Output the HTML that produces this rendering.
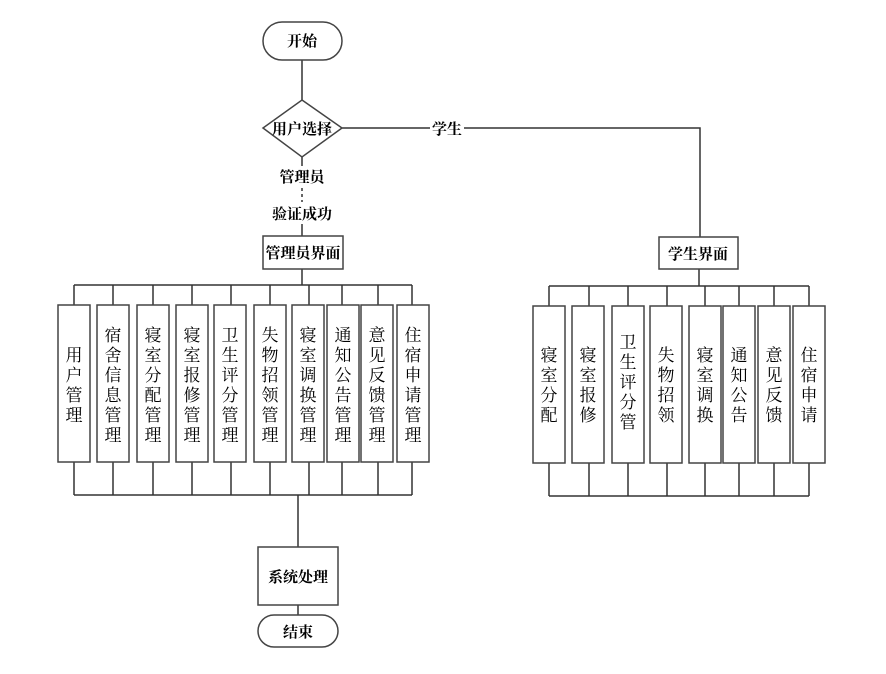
<!DOCTYPE html>
<html><head><meta charset="utf-8"><style>
body{margin:0;background:#fff}
svg text{font-family:"Liberation Serif","Noto Serif CJK SC","Noto Sans CJK SC",serif;fill:#000}
.b{font-weight:bold;font-size:15px}
.v{font-size:17px;font-family:"Liberation Sans","Noto Sans CJK SC",sans-serif}
</style></head><body>
<svg width="886" height="669" viewBox="0 0 886 669" xmlns="http://www.w3.org/2000/svg">
<g stroke="#333" stroke-width="1.5" fill="none">
<line x1="302" y1="60" x2="302" y2="100"/>
<polyline points="342,128 700,128 700,237"/>
<line x1="302" y1="157" x2="302" y2="166"/>
<line x1="302" y1="188" x2="302" y2="202" stroke-dasharray="3,3"/>
<line x1="302" y1="224" x2="302" y2="236"/>
<line x1="302" y1="269" x2="302" y2="285"/>
<line x1="74" y1="285" x2="412" y2="285"/>
<line x1="74" y1="495" x2="412" y2="495"/>
<line x1="298" y1="495" x2="298" y2="547"/>
<line x1="298" y1="605" x2="298" y2="615"/>
<line x1="699" y1="269" x2="699" y2="286"/>
<line x1="549" y1="286" x2="809" y2="286"/>
<line x1="549" y1="496" x2="809" y2="496"/>
</g>
<g stroke="#333" stroke-width="1.5">
<line x1="74" y1="285" x2="74" y2="495"/><line x1="113" y1="285" x2="113" y2="495"/><line x1="153" y1="285" x2="153" y2="495"/><line x1="192" y1="285" x2="192" y2="495"/><line x1="231" y1="285" x2="231" y2="495"/><line x1="270" y1="285" x2="270" y2="495"/><line x1="309" y1="285" x2="309" y2="495"/><line x1="342" y1="285" x2="342" y2="495"/><line x1="378" y1="285" x2="378" y2="495"/><line x1="412" y1="285" x2="412" y2="495"/>
<line x1="549" y1="286" x2="549" y2="496"/><line x1="589" y1="286" x2="589" y2="496"/><line x1="628" y1="286" x2="628" y2="496"/><line x1="667" y1="286" x2="667" y2="496"/><line x1="705" y1="286" x2="705" y2="496"/><line x1="739" y1="286" x2="739" y2="496"/><line x1="774" y1="286" x2="774" y2="496"/><line x1="809" y1="286" x2="809" y2="496"/>
</g>
<g fill="#fff" stroke="#444" stroke-width="1.5">
<rect x="263" y="22" width="79" height="38" rx="19"/>
<polygon points="302,100 342,128 302,157 263,128"/>
<rect x="263" y="236" width="80" height="33"/>
<rect x="659" y="237" width="79" height="32"/>
<rect x="258" y="547" width="80" height="58"/>
<rect x="258" y="615" width="80" height="32" rx="16"/>
<rect x="58" y="305" width="32" height="157"/><rect x="97" y="305" width="32" height="157"/><rect x="137" y="305" width="32" height="157"/><rect x="176" y="305" width="32" height="157"/><rect x="214" y="305" width="32" height="157"/><rect x="254" y="305" width="32" height="157"/><rect x="292" y="305" width="32" height="157"/><rect x="327" y="305" width="32" height="157"/><rect x="361" y="305" width="32" height="157"/><rect x="397" y="305" width="32" height="157"/>
<rect x="533" y="306" width="32" height="157"/><rect x="572" y="306" width="32" height="157"/><rect x="612" y="306" width="32" height="157"/><rect x="650" y="306" width="32" height="157"/><rect x="689" y="306" width="32" height="157"/><rect x="723" y="306" width="32" height="157"/><rect x="758" y="306" width="32" height="157"/><rect x="793" y="306" width="32" height="157"/>
</g>
<rect x="430" y="119" width="34" height="18" fill="#fff"/>
<g class="b" text-anchor="middle">
<text x="302" y="46">开始</text>
<text x="302" y="134">用户选择</text>
<text x="447" y="134">学生</text>
<text x="302" y="182">管理员</text>
<text x="302" y="219">验证成功</text>
<text x="303" y="258">管理员界面</text>
<text x="698" y="259">学生界面</text>
<text x="298" y="582">系统处理</text>
<text x="298" y="637">结束</text>
</g>
<g class="v" text-anchor="middle">
<text x="74" y="361"><tspan x="74">用</tspan><tspan x="74" dy="20">户</tspan><tspan x="74" dy="20">管</tspan><tspan x="74" dy="20">理</tspan></text>
<text x="113" y="341"><tspan x="113">宿</tspan><tspan x="113" dy="20">舍</tspan><tspan x="113" dy="20">信</tspan><tspan x="113" dy="20">息</tspan><tspan x="113" dy="20">管</tspan><tspan x="113" dy="20">理</tspan></text>
<text x="153" y="341"><tspan x="153">寝</tspan><tspan x="153" dy="20">室</tspan><tspan x="153" dy="20">分</tspan><tspan x="153" dy="20">配</tspan><tspan x="153" dy="20">管</tspan><tspan x="153" dy="20">理</tspan></text>
<text x="192" y="341"><tspan x="192">寝</tspan><tspan x="192" dy="20">室</tspan><tspan x="192" dy="20">报</tspan><tspan x="192" dy="20">修</tspan><tspan x="192" dy="20">管</tspan><tspan x="192" dy="20">理</tspan></text>
<text x="230" y="341"><tspan x="230">卫</tspan><tspan x="230" dy="20">生</tspan><tspan x="230" dy="20">评</tspan><tspan x="230" dy="20">分</tspan><tspan x="230" dy="20">管</tspan><tspan x="230" dy="20">理</tspan></text>
<text x="270" y="341"><tspan x="270">失</tspan><tspan x="270" dy="20">物</tspan><tspan x="270" dy="20">招</tspan><tspan x="270" dy="20">领</tspan><tspan x="270" dy="20">管</tspan><tspan x="270" dy="20">理</tspan></text>
<text x="308" y="341"><tspan x="308">寝</tspan><tspan x="308" dy="20">室</tspan><tspan x="308" dy="20">调</tspan><tspan x="308" dy="20">换</tspan><tspan x="308" dy="20">管</tspan><tspan x="308" dy="20">理</tspan></text>
<text x="343" y="341"><tspan x="343">通</tspan><tspan x="343" dy="20">知</tspan><tspan x="343" dy="20">公</tspan><tspan x="343" dy="20">告</tspan><tspan x="343" dy="20">管</tspan><tspan x="343" dy="20">理</tspan></text>
<text x="377" y="341"><tspan x="377">意</tspan><tspan x="377" dy="20">见</tspan><tspan x="377" dy="20">反</tspan><tspan x="377" dy="20">馈</tspan><tspan x="377" dy="20">管</tspan><tspan x="377" dy="20">理</tspan></text>
<text x="413" y="341"><tspan x="413">住</tspan><tspan x="413" dy="20">宿</tspan><tspan x="413" dy="20">申</tspan><tspan x="413" dy="20">请</tspan><tspan x="413" dy="20">管</tspan><tspan x="413" dy="20">理</tspan></text>
<text x="549" y="361"><tspan x="549">寝</tspan><tspan x="549" dy="20">室</tspan><tspan x="549" dy="20">分</tspan><tspan x="549" dy="20">配</tspan></text>
<text x="588" y="361"><tspan x="588">寝</tspan><tspan x="588" dy="20">室</tspan><tspan x="588" dy="20">报</tspan><tspan x="588" dy="20">修</tspan></text>
<text x="628" y="348"><tspan x="628">卫</tspan><tspan x="628" dy="20">生</tspan><tspan x="628" dy="20">评</tspan><tspan x="628" dy="20">分</tspan><tspan x="628" dy="20">管</tspan></text>
<text x="666" y="361"><tspan x="666">失</tspan><tspan x="666" dy="20">物</tspan><tspan x="666" dy="20">招</tspan><tspan x="666" dy="20">领</tspan></text>
<text x="705" y="361"><tspan x="705">寝</tspan><tspan x="705" dy="20">室</tspan><tspan x="705" dy="20">调</tspan><tspan x="705" dy="20">换</tspan></text>
<text x="739" y="361"><tspan x="739">通</tspan><tspan x="739" dy="20">知</tspan><tspan x="739" dy="20">公</tspan><tspan x="739" dy="20">告</tspan></text>
<text x="774" y="361"><tspan x="774">意</tspan><tspan x="774" dy="20">见</tspan><tspan x="774" dy="20">反</tspan><tspan x="774" dy="20">馈</tspan></text>
<text x="809" y="361"><tspan x="809">住</tspan><tspan x="809" dy="20">宿</tspan><tspan x="809" dy="20">申</tspan><tspan x="809" dy="20">请</tspan></text>
</g>
</svg>
</body></html>
